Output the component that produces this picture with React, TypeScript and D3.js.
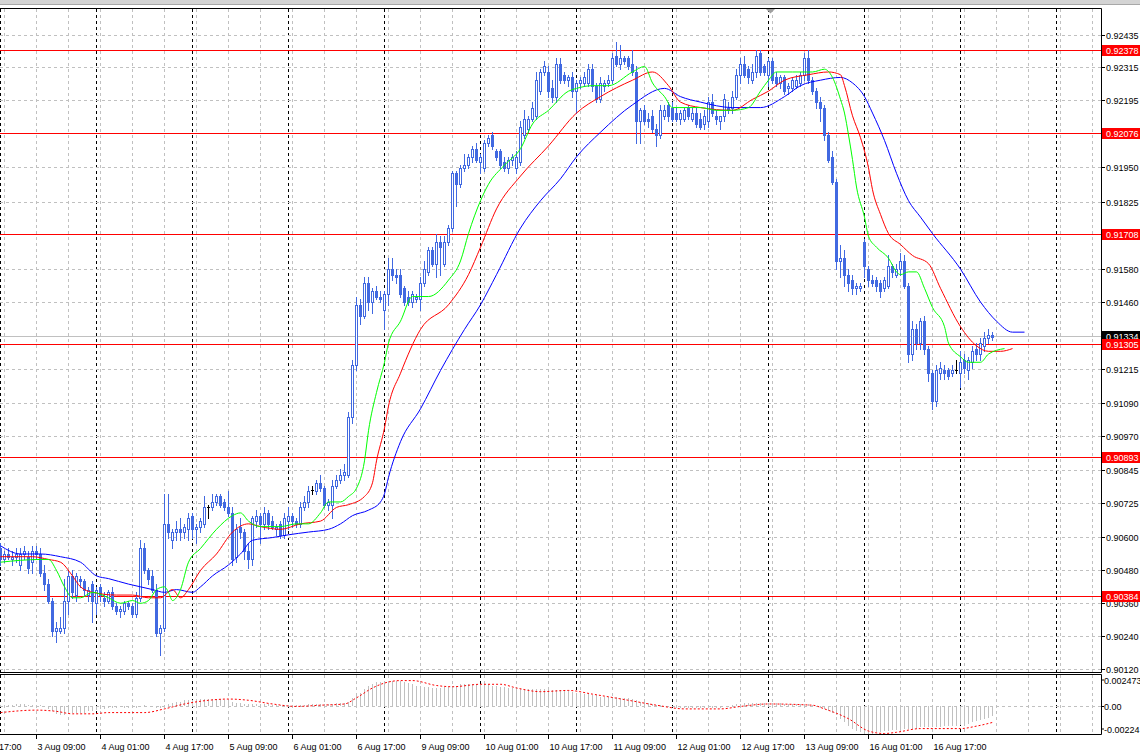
import { useEffect, useRef } from 'react'
import * as d3 from 'd3'

type Bar = [number, number, number, number]
type Pt = [number, number]

// H1 bars from 3 Aug 00:00, open / high / low / close
const CANDLES: Bar[] = [
  // 3 Aug
  [0.9056, 0.9058, 0.9050, 0.9052], [0.9052, 0.9055, 0.9051, 0.9054], [0.9054, 0.9056, 0.9052, 0.9053], [0.9052, 0.9055, 0.9050, 0.9053],
  [0.9053, 0.9056, 0.9051, 0.9054], [0.9050, 0.9056, 0.9048, 0.9054], [0.9054, 0.9057, 0.9052, 0.9055], [0.9053, 0.9055, 0.9047, 0.9049],
  [0.9051, 0.9057, 0.9047, 0.9055], [0.9055, 0.9057, 0.9052, 0.9054], [0.9054, 0.9056, 0.9046, 0.9047], [0.9047, 0.9050, 0.9041, 0.9043],
  [0.9043, 0.9045, 0.9036, 0.9037], [0.9037, 0.9038, 0.9024, 0.9026], [0.9026, 0.9029, 0.9022, 0.9027], [0.9026, 0.9031, 0.9025, 0.9027],
  [0.9027, 0.9045, 0.9025, 0.9037], [0.9037, 0.9048, 0.9032, 0.9046], [0.9046, 0.9048, 0.9038, 0.9040], [0.9039, 0.9047, 0.9037, 0.9046],
  [0.9045, 0.9046, 0.9042, 0.9044], [0.9044, 0.9045, 0.9039, 0.9041], [0.9039, 0.9042, 0.9037, 0.9041], [0.9043, 0.9044, 0.9029, 0.9037],
  // 4 Aug
  [0.9036, 0.9042, 0.9032, 0.9041], [0.9042, 0.9043, 0.9037, 0.9039], [0.9038, 0.9040, 0.9035, 0.9037], [0.9037, 0.9041, 0.9036, 0.9040],
  [0.9040, 0.9042, 0.9034, 0.9035], [0.9035, 0.9036, 0.9032, 0.9033], [0.9033, 0.9035, 0.9031, 0.9034], [0.9033, 0.9037, 0.9032, 0.9036],
  [0.9036, 0.9037, 0.9034, 0.9035], [0.9035, 0.9036, 0.9031, 0.9032], [0.9032, 0.9040, 0.9031, 0.9038], [0.9038, 0.9059, 0.9037, 0.9056],
  [0.9056, 0.9058, 0.9047, 0.9048], [0.9048, 0.9049, 0.9043, 0.9045], [0.9046, 0.9048, 0.9040, 0.9041], [0.9041, 0.9043, 0.9024, 0.9025],
  [0.9025, 0.9028, 0.9017, 0.9027], [0.9027, 0.9076, 0.9026, 0.9065], [0.9065, 0.9076, 0.9060, 0.9062], [0.9059, 0.9063, 0.9056, 0.9062],
  [0.9062, 0.9066, 0.9059, 0.9063], [0.9063, 0.9067, 0.9059, 0.9062], [0.9062, 0.9065, 0.9060, 0.9064], [0.9063, 0.9069, 0.9059, 0.9067],
  // 5 Aug
  [0.9068, 0.9069, 0.9060, 0.9063], [0.9063, 0.9065, 0.9058, 0.9064], [0.9064, 0.9067, 0.9062, 0.9066], [0.9065, 0.9075, 0.9064, 0.9071],
  [0.9071, 0.9072, 0.9067, 0.9071], [0.9071, 0.9076, 0.9070, 0.9073], [0.9073, 0.9076, 0.9072, 0.9075], [0.9075, 0.9076, 0.9071, 0.9072],
  [0.9073, 0.9074, 0.9070, 0.9071], [0.9071, 0.9077, 0.9068, 0.9069], [0.9069, 0.9071, 0.9050, 0.9052], [0.9053, 0.9065, 0.9051, 0.9063],
  [0.9064, 0.9067, 0.9060, 0.9062], [0.9062, 0.9063, 0.9052, 0.9055], [0.9055, 0.9058, 0.9049, 0.9052], [0.9052, 0.9068, 0.9050, 0.9067],
  [0.9066, 0.9070, 0.9064, 0.9068], [0.9068, 0.9069, 0.9058, 0.9065], [0.9065, 0.9071, 0.9063, 0.9069], [0.9069, 0.9070, 0.9063, 0.9065],
  [0.9066, 0.9068, 0.9063, 0.9064], [0.9063, 0.9065, 0.9061, 0.9064], [0.9065, 0.9066, 0.9060, 0.9061], [0.9061, 0.9069, 0.9060, 0.9067],
  // 6 Aug
  [0.9066, 0.9071, 0.9063, 0.9068], [0.9068, 0.9069, 0.9064, 0.9066], [0.9066, 0.9067, 0.9064, 0.9065], [0.9065, 0.9073, 0.9064, 0.9071],
  [0.9071, 0.9075, 0.9070, 0.9073], [0.9073, 0.9079, 0.9071, 0.9077], [0.9077, 0.9079, 0.9076, 0.9077], [0.9077, 0.9081, 0.9076, 0.9080],
  [0.9080, 0.9083, 0.9077, 0.9078], [0.9078, 0.9079, 0.9071, 0.9072], [0.9072, 0.9074, 0.9070, 0.9073], [0.9072, 0.9081, 0.9067, 0.9079],
  [0.9079, 0.9083, 0.9078, 0.9081], [0.9081, 0.9085, 0.9080, 0.9083], [0.9083, 0.9087, 0.9081, 0.9084], [0.9083, 0.9106, 0.9082, 0.9104],
  [0.9104, 0.9125, 0.9102, 0.9123], [0.9123, 0.9148, 0.9121, 0.9145], [0.9145, 0.9147, 0.9138, 0.9141], [0.9141, 0.9155, 0.9140, 0.9153],
  [0.9153, 0.9155, 0.9143, 0.9146], [0.9146, 0.9151, 0.9142, 0.9150], [0.9150, 0.9152, 0.9147, 0.9148], [0.9148, 0.9150, 0.9146, 0.9147],
  // 9 Aug
  [0.9143, 0.9150, 0.9136, 0.9149], [0.9149, 0.9162, 0.9145, 0.9158], [0.9158, 0.9162, 0.9154, 0.9156], [0.9156, 0.9158, 0.9153, 0.9155],
  [0.9156, 0.9158, 0.9148, 0.9149], [0.9151, 0.9152, 0.9145, 0.9146], [0.9148, 0.9150, 0.9145, 0.9146], [0.9146, 0.9150, 0.9144, 0.9149],
  [0.9147, 0.9149, 0.9146, 0.9148], [0.9147, 0.9155, 0.9143, 0.9153], [0.9153, 0.9161, 0.9152, 0.9158], [0.9157, 0.9166, 0.9156, 0.9165],
  [0.9165, 0.9166, 0.9159, 0.9160], [0.9160, 0.9171, 0.9155, 0.9168], [0.9168, 0.9170, 0.9156, 0.9166], [0.9160, 0.9170, 0.9159, 0.9168],
  [0.9168, 0.9174, 0.9167, 0.9173], [0.9173, 0.9194, 0.9172, 0.9193], [0.9193, 0.9194, 0.9181, 0.9189], [0.9189, 0.9196, 0.9188, 0.9195],
  [0.9195, 0.9200, 0.9194, 0.9196], [0.9196, 0.9200, 0.9195, 0.9199], [0.9199, 0.9203, 0.9197, 0.9202], [0.9202, 0.9204, 0.9197, 0.9198],
  // 10 Aug
  [0.9197, 0.9200, 0.9193, 0.9199], [0.9195, 0.9205, 0.9194, 0.9204], [0.9204, 0.9207, 0.9203, 0.9206], [0.9207, 0.9208, 0.9202, 0.9203],
  [0.9201, 0.9202, 0.9198, 0.9199], [0.9201, 0.9202, 0.9195, 0.9196], [0.9197, 0.9199, 0.9194, 0.9195], [0.9195, 0.9199, 0.9193, 0.9198],
  [0.9198, 0.9200, 0.9196, 0.9199], [0.9195, 0.9201, 0.9193, 0.9199], [0.9197, 0.9212, 0.9196, 0.9210], [0.9207, 0.9216, 0.9206, 0.9213],
  [0.9209, 0.9214, 0.9208, 0.9213], [0.9213, 0.9219, 0.9212, 0.9217], [0.9214, 0.9230, 0.9213, 0.9227], [0.9223, 0.9231, 0.9222, 0.9230],
  [0.9230, 0.9234, 0.9229, 0.9232], [0.9230, 0.9232, 0.9221, 0.9223], [0.9224, 0.9227, 0.9219, 0.9221], [0.9221, 0.9235, 0.9219, 0.9233],
  [0.9233, 0.9235, 0.9226, 0.9227], [0.9229, 0.9230, 0.9226, 0.9227], [0.9227, 0.9229, 0.9225, 0.9228], [0.9228, 0.9230, 0.9221, 0.9223],
  // 11 Aug
  [0.9223, 0.9227, 0.9215, 0.9226], [0.9226, 0.9228, 0.9224, 0.9227], [0.9226, 0.9230, 0.9225, 0.9228], [0.9226, 0.9233, 0.9225, 0.9231],
  [0.9231, 0.9233, 0.9223, 0.9225], [0.9225, 0.9226, 0.9219, 0.9220], [0.9220, 0.9228, 0.9219, 0.9226], [0.9225, 0.9227, 0.9223, 0.9226],
  [0.9226, 0.9229, 0.9225, 0.9227], [0.9227, 0.9237, 0.9226, 0.9235], [0.9236, 0.9241, 0.9232, 0.9233], [0.9233, 0.9240, 0.9231, 0.9235],
  [0.9235, 0.9236, 0.9233, 0.9234], [0.9235, 0.9236, 0.9231, 0.9232], [0.9233, 0.9238, 0.9229, 0.9230], [0.9230, 0.9232, 0.9204, 0.9212],
  [0.9212, 0.9217, 0.9204, 0.9216], [0.9216, 0.9218, 0.9211, 0.9212], [0.9213, 0.9215, 0.9210, 0.9212], [0.9214, 0.9216, 0.9208, 0.9209],
  [0.9209, 0.9211, 0.9203, 0.9207], [0.9207, 0.9218, 0.9206, 0.9216], [0.9214, 0.9218, 0.9213, 0.9216], [0.9218, 0.9219, 0.9212, 0.9214],
  // 12 Aug
  [0.9217, 0.9219, 0.9212, 0.9213], [0.9215, 0.9217, 0.9212, 0.9213], [0.9213, 0.9216, 0.9211, 0.9215], [0.9213, 0.9217, 0.9212, 0.9216],
  [0.9217, 0.9218, 0.9213, 0.9214], [0.9213, 0.9217, 0.9212, 0.9215], [0.9215, 0.9217, 0.9210, 0.9211], [0.9213, 0.9215, 0.9209, 0.9210],
  [0.9211, 0.9216, 0.9209, 0.9214], [0.9212, 0.9221, 0.9210, 0.9219], [0.9219, 0.9222, 0.9214, 0.9215], [0.9214, 0.9216, 0.9211, 0.9213],
  [0.9212, 0.9214, 0.9209, 0.9214], [0.9214, 0.9222, 0.9212, 0.9220], [0.9217, 0.9219, 0.9215, 0.9216], [0.9217, 0.9223, 0.9215, 0.9221],
  [0.9221, 0.9231, 0.9220, 0.9229], [0.9229, 0.9235, 0.9226, 0.9233], [0.9233, 0.9236, 0.9228, 0.9229], [0.9231, 0.9232, 0.9226, 0.9228],
  [0.9227, 0.9233, 0.9226, 0.9230], [0.9230, 0.9238, 0.9228, 0.9236], [0.9237, 0.9238, 0.9229, 0.9230], [0.9232, 0.9233, 0.9229, 0.9230],
  // 13 Aug
  [0.9229, 0.9235, 0.9225, 0.9234], [0.9234, 0.9235, 0.9226, 0.9227], [0.9228, 0.9230, 0.9225, 0.9226], [0.9226, 0.9229, 0.9224, 0.9228],
  [0.9228, 0.9229, 0.9222, 0.9223], [0.9224, 0.9226, 0.9222, 0.9225], [0.9224, 0.9228, 0.9223, 0.9227], [0.9225, 0.9229, 0.9224, 0.9227],
  [0.9226, 0.9230, 0.9225, 0.9229], [0.9229, 0.9237, 0.9227, 0.9235], [0.9235, 0.9238, 0.9226, 0.9227], [0.9227, 0.9228, 0.9222, 0.9223],
  [0.9223, 0.9224, 0.9217, 0.9219], [0.9219, 0.9221, 0.9212, 0.9217], [0.9217, 0.9218, 0.9205, 0.9207], [0.9207, 0.9208, 0.9197, 0.9198],
  [0.9199, 0.9201, 0.9189, 0.9190], [0.9190, 0.9191, 0.9158, 0.9161], [0.9161, 0.9167, 0.9155, 0.9162], [0.9162, 0.9165, 0.9152, 0.9156],
  [0.9156, 0.9158, 0.9150, 0.9153], [0.9154, 0.9156, 0.9149, 0.9151], [0.9151, 0.9153, 0.9149, 0.9152], [0.9151, 0.9153, 0.9150, 0.9152],
  // 16 Aug
  [0.9168, 0.9169, 0.9155, 0.9159], [0.9158, 0.9159, 0.9152, 0.9154], [0.9154, 0.9156, 0.9152, 0.9153], [0.9154, 0.9155, 0.9150, 0.9152],
  [0.9153, 0.9154, 0.9148, 0.9150], [0.9151, 0.9155, 0.9150, 0.9154], [0.9152, 0.9163, 0.9151, 0.9159], [0.9159, 0.9160, 0.9155, 0.9157],
  [0.9156, 0.9160, 0.9155, 0.9158], [0.9158, 0.9164, 0.9156, 0.9161], [0.9161, 0.9163, 0.9151, 0.9152], [0.9152, 0.9153, 0.9124, 0.9127],
  [0.9127, 0.9139, 0.9125, 0.9136], [0.9136, 0.9138, 0.9129, 0.9131], [0.9131, 0.9140, 0.9129, 0.9139], [0.9139, 0.9141, 0.9127, 0.9129],
  [0.9129, 0.9130, 0.9117, 0.9120], [0.9120, 0.9121, 0.9107, 0.9110], [0.9110, 0.9123, 0.9108, 0.9121], [0.9120, 0.9124, 0.9118, 0.9122],
  [0.9121, 0.9123, 0.9118, 0.9120], [0.9121, 0.9122, 0.9118, 0.9119], [0.9120, 0.9123, 0.9119, 0.9121], [0.9121, 0.9125, 0.9120, 0.9121],
  // 17 Aug
  [0.9120, 0.9128, 0.9115, 0.9124], [0.9125, 0.9127, 0.9120, 0.9122], [0.9121, 0.9126, 0.9118, 0.9125], [0.9124, 0.9130, 0.9122, 0.9128],
  [0.9129, 0.9131, 0.9125, 0.9127], [0.9127, 0.9133, 0.9125, 0.9131], [0.9130, 0.9135, 0.9128, 0.9133], [0.9133, 0.9136, 0.9131, 0.9134],
  [0.9134, 0.9135, 0.9132, 0.91334],
]

// Alligator lines, [bar position incl. shift, price]
const JAW: Pt[] = [
  [0, 0.9057], [5, 0.9054], [10, 0.9054], [15, 0.9053], [20, 0.9051], [24, 0.9046], [27, 0.9045], [32, 0.9043], [35, 0.9042],
  [38, 0.9041], [41, 0.9040], [44, 0.9041], [48, 0.9040], [50, 0.9042], [53, 0.9046], [57, 0.9050], [60, 0.9054], [63, 0.9059],
  [68, 0.9060], [72, 0.9061], [77, 0.9062], [82, 0.9063], [85, 0.9065], [88, 0.9068], [92, 0.9070], [95, 0.9073], [96, 0.9076],
  [97, 0.9082], [100, 0.9095], [105, 0.9107], [110, 0.9121], [116, 0.9136], [120, 0.9145], [124, 0.9156], [130, 0.9173],
  [135, 0.9183], [140, 0.9191], [144, 0.9199], [150, 0.9208], [158, 0.9218], [166, 0.9224], [170, 0.9221], [175, 0.9219],
  [183, 0.9217], [190, 0.9217], [196, 0.9221], [200, 0.9225], [205, 0.9227], [210, 0.9228], [213, 0.9226], [216, 0.9221],
  [218, 0.9215], [221, 0.9205], [224, 0.9193], [227, 0.9183], [230, 0.9177], [233, 0.9171], [240, 0.9158], [245, 0.9146],
  [249, 0.9139], [253, 0.9135], [256, 0.9135],
]
const TEETH: Pt[] = [
  [0, 0.9053], [8, 0.9053], [12, 0.9052], [15, 0.9051], [18, 0.9046], [20, 0.9042], [23, 0.9040], [29, 0.9039], [33, 0.9039],
  [37, 0.9038], [40, 0.9038], [43, 0.9041], [45, 0.9038], [47, 0.9041], [50, 0.9048], [54, 0.9054], [58, 0.9062], [62, 0.9065],
  [65, 0.9064], [70, 0.9063], [75, 0.9065], [80, 0.9066], [84, 0.9071], [87, 0.9072], [91, 0.9075], [93, 0.9080], [94, 0.9088],
  [96, 0.9100], [97, 0.9108], [100, 0.9120], [105, 0.9136], [112, 0.9145], [117, 0.9156], [120, 0.9166], [124, 0.9180],
  [130, 0.9192], [137, 0.9203], [144, 0.9215], [150, 0.9221], [158, 0.9227], [163, 0.9230], [167, 0.9225], [170, 0.9219],
  [175, 0.9217], [183, 0.9216], [188, 0.9220], [192, 0.9223], [196, 0.9227], [202, 0.9229], [207, 0.9230], [210, 0.9229],
  [211, 0.9225], [213, 0.9214], [215, 0.9206], [217, 0.9195], [218, 0.9187], [220, 0.9178], [222, 0.9171], [225, 0.9167],
  [228, 0.9163], [232, 0.9160], [235, 0.9151], [240, 0.9137], [244, 0.9130], [247, 0.9128], [250, 0.9128], [253, 0.9129],
]
const LIPS: Pt[] = [
  [0, 0.9051], [10, 0.9052], [12, 0.9052], [14, 0.9048], [16, 0.9042], [18, 0.9038], [20, 0.9038], [23, 0.9040], [27, 0.9038],
  [30, 0.9036], [33, 0.9037], [35, 0.9036], [37, 0.9037], [39, 0.9041], [41, 0.9042], [42, 0.9040], [43, 0.9037], [45, 0.9041],
  [47, 0.9051], [50, 0.9056], [54, 0.9063], [58, 0.9068], [60, 0.9069], [62, 0.9066], [65, 0.9064], [70, 0.9064], [74, 0.9065],
  [77, 0.9065], [80, 0.9069], [82, 0.9073], [85, 0.9073], [87, 0.9075], [89, 0.9078], [91, 0.9088], [92, 0.9099], [94, 0.9113],
  [96, 0.9124], [97, 0.9131], [100, 0.9139], [103, 0.9148], [107, 0.9148], [112, 0.9154], [115, 0.9161], [117, 0.9171],
  [120, 0.9183], [122, 0.9189], [126, 0.9196], [130, 0.9202], [133, 0.9211], [137, 0.9216], [142, 0.9223], [144, 0.9224],
  [148, 0.9225], [152, 0.9225], [158, 0.9230], [161, 0.9232], [163, 0.9226], [166, 0.9221], [168, 0.9217], [172, 0.9217],
  [175, 0.9217], [179, 0.9216], [183, 0.9216], [187, 0.9217], [190, 0.9223], [192, 0.9227], [194, 0.9230], [198, 0.9230],
  [203, 0.9230], [206, 0.9231], [208, 0.9228], [210, 0.9220], [211, 0.9215], [212, 0.9207], [213, 0.9198], [214, 0.9188],
  [216, 0.9177], [217, 0.9170], [219, 0.9166], [222, 0.9162], [224, 0.9157], [225, 0.9156], [227, 0.9157], [229, 0.9157],
  [231, 0.9151], [233, 0.9144], [236, 0.9137], [237, 0.9131], [240, 0.9126], [242, 0.9124], [245, 0.9124], [247, 0.9127],
  [251, 0.9129],
]

// MACD main (histogram), one per bar
const MACD_HIST: number[] = [
  0.0001, 0.0001, 0.0001, 0.0001, 0.0002, 0.0002, 0.0002, 0.0001, 0.0001, 0.0001, 0.0001, 0.0000,
  -0.0002, -0.0004, -0.0006, -0.0007, -0.0007, -0.0006, -0.0005, -0.0005, -0.0005, -0.0005, -0.0004, -0.0004,
  -0.0003, -0.0002, -0.0002, -0.0001, -0.0001, -0.0001, 0.0000, -0.0001, -0.0001, 0.0000, -0.0001, 0.0000,
  0.0001, 0.0000, 0.0000, -0.0001, -0.0001, 0.0001, 0.0002, 0.0003, 0.0004, 0.0004, 0.0005, 0.0005,
  0.0005, 0.0006, 0.0006, 0.0006, 0.0006, 0.0006, 0.0006, 0.0006, 0.0005, 0.0005, 0.0004, 0.0003,
  0.0003, 0.0002, 0.0002, 0.0002, 0.0002, 0.0002, 0.0002, 0.0002, 0.0001, 0.0001, 0.0001, 0.0001,
  0.0001, 0.0001, 0.0001, 0.0001, 0.0001, 0.0002, 0.0002, 0.0002, 0.0002, 0.0002, 0.0002, 0.0002,
  0.0003, 0.0003, 0.0003, 0.0004, 0.0007, 0.0009, 0.0011, 0.0014, 0.0017, 0.0018, 0.0020, 0.0020,
  0.0021, 0.0021, 0.0021, 0.0021, 0.0021, 0.0020, 0.0019, 0.0018, 0.0017, 0.0017, 0.0016, 0.0016,
  0.0015, 0.0015, 0.0015, 0.0016, 0.0016, 0.0017, 0.0017, 0.0018, 0.0018, 0.0018, 0.0018, 0.0018,
  0.0018, 0.0018, 0.0018, 0.0017, 0.0017, 0.0016, 0.0016, 0.0015, 0.0015, 0.0014, 0.0014, 0.0014,
  0.0014, 0.0014, 0.0014, 0.0014, 0.0014, 0.0013, 0.0013, 0.0013, 0.0013, 0.0013, 0.0013, 0.0012,
  0.0011, 0.0011, 0.0010, 0.0010, 0.0009, 0.0009, 0.0008, 0.0008, 0.0008, 0.0008, 0.0008, 0.0007,
  0.0007, 0.0007, 0.0006, 0.0005, 0.0004, 0.0004, 0.0003, 0.0002, 0.0001, 0.0001, 0.0000, 0.0000,
  0.0000, -0.0001, -0.0001, -0.0001, -0.0001, -0.0001, -0.0001, -0.0001, -0.0001, -0.0001, -0.0001, -0.0001,
  -0.0001, 0.0000, 0.0000, 0.0001, 0.0002, 0.0002, 0.0003, 0.0003, 0.0003, 0.0003, 0.0003, 0.0003,
  0.0003, 0.0003, 0.0003, 0.0003, 0.0002, 0.0002, 0.0002, 0.0002, 0.0002, 0.0002, 0.0002, 0.0001,
  0.0000, -0.0001, -0.0002, -0.0004, -0.0005, -0.0007, -0.0010, -0.0013, -0.0016, -0.0018, -0.0020, -0.0021,
  -0.0022, -0.0022, -0.0022, -0.0021, -0.0021, -0.0020, -0.0020, -0.0019, -0.0019, -0.0018, -0.0018, -0.0018,
  -0.0018, -0.0018, -0.0017, -0.0017, -0.0017, -0.0017, -0.0017, -0.0017, -0.0016, -0.0016, -0.0016, -0.0016,
  -0.0015, -0.0015, -0.0014, -0.0013, -0.0012, -0.0011, -0.0010, -0.0009, -0.0008,
]
const MACD_SIGNAL: Pt[] = [
  [0, -0.0005], [9, -0.0003], [14, -0.0004], [18, -0.0006], [23, -0.0006], [27, -0.0005], [36, -0.0005], [41, -0.0002],
  [46, 0.0002], [52, 0.0005], [57, 0.0006], [62, 0.0005], [68, 0.0002], [74, 0.0000], [80, 0.0001], [86, 0.0002],
  [89, 0.0007], [93, 0.0015], [96, 0.0019], [100, 0.0021], [103, 0.0021], [109, 0.0017], [113, 0.0016], [120, 0.0018],
  [125, 0.0018], [129, 0.0015], [135, 0.0012], [142, 0.0013], [148, 0.0010], [157, 0.0005], [164, 0.0001], [171, -0.0002],
  [180, -0.0002], [185, 0.0000], [192, 0.0002], [203, 0.0001], [206, -0.0002], [212, -0.0010], [217, -0.0020],
  [221, -0.0022], [224, -0.0021], [230, -0.0018], [240, -0.0018], [244, -0.0016], [248, -0.0013],
]

const PRICE_TICKS = [
  '0.92435', '0.92315', '0.92195', '0.92075', '0.91950', '0.91825', '0.91705', '0.91580', '0.91460', '0.91335',
  '0.91215', '0.91090', '0.90970', '0.90845', '0.90725', '0.90600', '0.90480', '0.90360', '0.90240', '0.90120',
]
const LEVELS = ['0.92378', '0.92076', '0.91708', '0.91305', '0.90893', '0.90384']
const BID = '0.91334'
const MACD_TICKS = ['0.002473', '0.00', '-0.00224']

const TIME_LABELS = [
  '2 Aug 17:00', '3 Aug 09:00', '4 Aug 01:00', '4 Aug 17:00', '5 Aug 09:00', '6 Aug 01:00', '6 Aug 17:00', '9 Aug 09:00',
  '10 Aug 01:00', '10 Aug 17:00', '11 Aug 09:00', '12 Aug 01:00', '12 Aug 17:00', '13 Aug 09:00', '16 Aug 01:00', '16 Aug 17:00',
]
const TIME_LABEL_BARS = [-7, 9, 25, 41, 57, 73, 89, 105, 121, 137, 153, 169, 185, 201, 217, 233]
const DAY_START_BARS = [0, 24, 48, 72, 96, 120, 144, 168, 192, 216, 240, 264]

const W = 1140
const H = 754
const RIGHT = 1101
const FONT = '"Liberation Sans", Arial, sans-serif'
const BLUE = '#4169e1'
const GRID = '#c0c0c0'

export default function App() {
  const svgRef = useRef<SVGSVGElement>(null)

  useEffect(() => {
    if (!svgRef.current) return
    const svg = d3.select(svgRef.current)
    svg.selectAll('*').remove()

    const x = d3.scaleLinear().domain([0, 1]).range([0.5, 4.5])
    const y = d3.scaleLinear().domain([0.9012, 0.92435]).range([669, 35])
    const yM = d3.scaleLinear().domain([-0.00224, 0.002473]).range([734, 676])
    const crisp = (v: number) => Math.round(v - 0.5) + 0.5

    svg.append('rect').attr('width', W).attr('height', H).attr('fill', '#fff')
    svg.append('rect').attr('width', W).attr('height', 4).attr('fill', '#d4d4d4')
    svg.append('line').attr('x1', 0).attr('x2', W).attr('y1', 4.5).attr('y2', 4.5).attr('stroke', '#a8a8a8')

    const defs = svg.append('defs')
    defs.append('clipPath').attr('id', 'clip-main')
      .append('rect').attr('x', 0).attr('y', 9).attr('width', RIGHT).attr('height', 663)
    defs.append('clipPath').attr('id', 'clip-sub')
      .append('rect').attr('x', 0).attr('y', 675).attr('width', RIGHT).attr('height', 59)

    const main = svg.append('g').attr('clip-path', 'url(#clip-main)')
    const sub = svg.append('g').attr('clip-path', 'url(#clip-sub)')

    // grid
    const gridBars = d3.range(1, 280, 8)
    ;[[main, 9, 672], [sub, 675, 734]].forEach(([g, top, bottom]: any) => {
      g.selectAll('.vgrid').data(gridBars).enter().append('line')
        .attr('x1', (d: number) => x(d)).attr('x2', (d: number) => x(d))
        .attr('y1', top).attr('y2', bottom)
        .attr('stroke', GRID).attr('stroke-dasharray', '3,3')
      g.selectAll('.sep').data(DAY_START_BARS).enter().append('line')
        .attr('x1', (d: number) => x(d)).attr('x2', (d: number) => x(d))
        .attr('y1', top).attr('y2', bottom)
        .attr('stroke', '#000').attr('stroke-dasharray', '3,3')
    })

    main.selectAll('.hgrid').data(PRICE_TICKS).enter().append('line')
      .attr('x1', 0).attr('x2', RIGHT)
      .attr('y1', d => crisp(y(+d))).attr('y2', d => crisp(y(+d)))
      .attr('stroke', GRID).attr('stroke-dasharray', '3,3')

    // bid line
    main.append('line').attr('x1', 0).attr('x2', RIGHT)
      .attr('y1', crisp(y(+BID))).attr('y2', crisp(y(+BID)))
      .attr('stroke', GRID)

    // horizontal levels
    main.selectAll('.level').data(LEVELS).enter().append('line')
      .attr('x1', 0).attr('x2', RIGHT)
      .attr('y1', d => crisp(y(+d))).attr('y2', d => crisp(y(+d)))
      .attr('stroke', '#ff0000').attr('stroke-width', 1.2)

    // candles
    const cg = main.append('g').attr('shape-rendering', 'crispEdges')
    CANDLES.forEach(([o, h, l, c], i) => {
      const cx = x(i)
      const doji = o === c
      const col = doji ? '#000' : BLUE
      cg.append('line').attr('x1', cx).attr('x2', cx)
        .attr('y1', Math.round(y(h))).attr('y2', Math.round(y(l)) + 1)
        .attr('stroke', col)
      if (doji) {
        cg.append('line').attr('x1', cx - 1.5).attr('x2', cx + 1.5)
          .attr('y1', crisp(y(o))).attr('y2', crisp(y(o))).attr('stroke', col)
        return
      }
      const top = Math.round(y(Math.max(o, c)))
      const bot = Math.round(y(Math.min(o, c)))
      if (c > o) {
        cg.append('rect').attr('x', cx - 1).attr('y', top + 0.5)
          .attr('width', 2).attr('height', Math.max(bot - top, 1))
          .attr('fill', '#fff').attr('stroke', BLUE)
      } else {
        cg.append('rect').attr('x', cx - 1.5).attr('y', top)
          .attr('width', 3).attr('height', Math.max(bot - top + 1, 1))
          .attr('fill', BLUE)
      }
    })

    // alligator
    const line = d3.line<Pt>().x(d => x(d[0])).y(d => y(d[1])).curve(d3.curveMonotoneX)
    ;[[JAW, '#0000ff'], [TEETH, '#ff0000'], [LIPS, '#00ff00']].forEach(([pts, col]: any) => {
      main.append('path').attr('d', line(pts)).attr('fill', 'none').attr('stroke', col).attr('stroke-width', 1)
    })

    // MACD sub-window
    sub.append('line').attr('x1', 0).attr('x2', RIGHT)
      .attr('y1', crisp(yM(0))).attr('y2', crisp(yM(0)))
      .attr('stroke', GRID).attr('stroke-dasharray', '3,3')
    sub.append('g').attr('shape-rendering', 'crispEdges')
      .selectAll('line').data(MACD_HIST).enter().append('line')
      .attr('x1', (_, i) => x(i)).attr('x2', (_, i) => x(i))
      .attr('y1', Math.round(yM(0))).attr('y2', d => Math.round(yM(d)))
      .attr('stroke', GRID)
    const sline = d3.line<Pt>().x(d => x(d[0])).y(d => yM(d[1])).curve(d3.curveMonotoneX)
    sub.append('path').attr('d', sline(MACD_SIGNAL)).attr('fill', 'none')
      .attr('stroke', '#ff0000').attr('stroke-dasharray', '2,2')

    // frames
    const frame = svg.append('g').attr('stroke', '#000').attr('fill', 'none')
    frame.append('path').attr('d', `M0,8.5H${RIGHT + 0.5}V672.5H0`)
    frame.append('path').attr('d', `M0,674.5H${RIGHT + 0.5}V734.5H0`)

    // price axis
    const ax = svg.append('g').attr('font-family', FONT).attr('font-size', 9)
    PRICE_TICKS.forEach(t => {
      const py = crisp(y(+t))
      ax.append('line').attr('x1', RIGHT).attr('x2', RIGHT + 4).attr('y1', py).attr('y2', py).attr('stroke', '#000')
      ax.append('text').attr('x', 1106).attr('y', py + 3.5).attr('fill', '#000').text(t)
    })
    const tag = (v: string, bg: string) => {
      const py = crisp(y(+v))
      ax.append('rect').attr('x', RIGHT + 1).attr('y', py - 5.5).attr('width', W - RIGHT - 1).attr('height', 11).attr('fill', bg)
      ax.append('text').attr('x', 1106).attr('y', py + 3.5).attr('fill', '#fff').text(v)
    }
    tag(BID, '#000')
    LEVELS.forEach(v => tag(v, '#ff0000'))

    // MACD axis
    const mPos = [683.5, crisp(yM(0)) + 3.5, 732.5]
    MACD_TICKS.forEach((t, k) => {
      ax.append('line').attr('x1', RIGHT).attr('x2', RIGHT + 3)
        .attr('y1', mPos[k] - 3.5).attr('y2', mPos[k] - 3.5).attr('stroke', '#000')
      ax.append('text').attr('x', 1104).attr('y', mPos[k]).attr('fill', '#000').text(t)
    })

    // time axis
    TIME_LABELS.forEach((t, k) => {
      const tx = x(TIME_LABEL_BARS[k])
      ax.append('line').attr('x1', tx).attr('x2', tx).attr('y1', 735).attr('y2', 739).attr('stroke', '#000')
      ax.append('text').attr('x', tx + 1).attr('y', 749.5).attr('fill', '#000').text(t)
    })

    // chart shift marker
    svg.append('path').attr('d', 'M766,9L775,9L770.5,13.5Z').attr('fill', '#a0a0a0')
  }, [])

  return (
    <svg
      ref={svgRef}
      width={W}
      height={H}
      style={{ position: 'absolute', left: 0, top: 0, display: 'block' }}
    />
  )
}
